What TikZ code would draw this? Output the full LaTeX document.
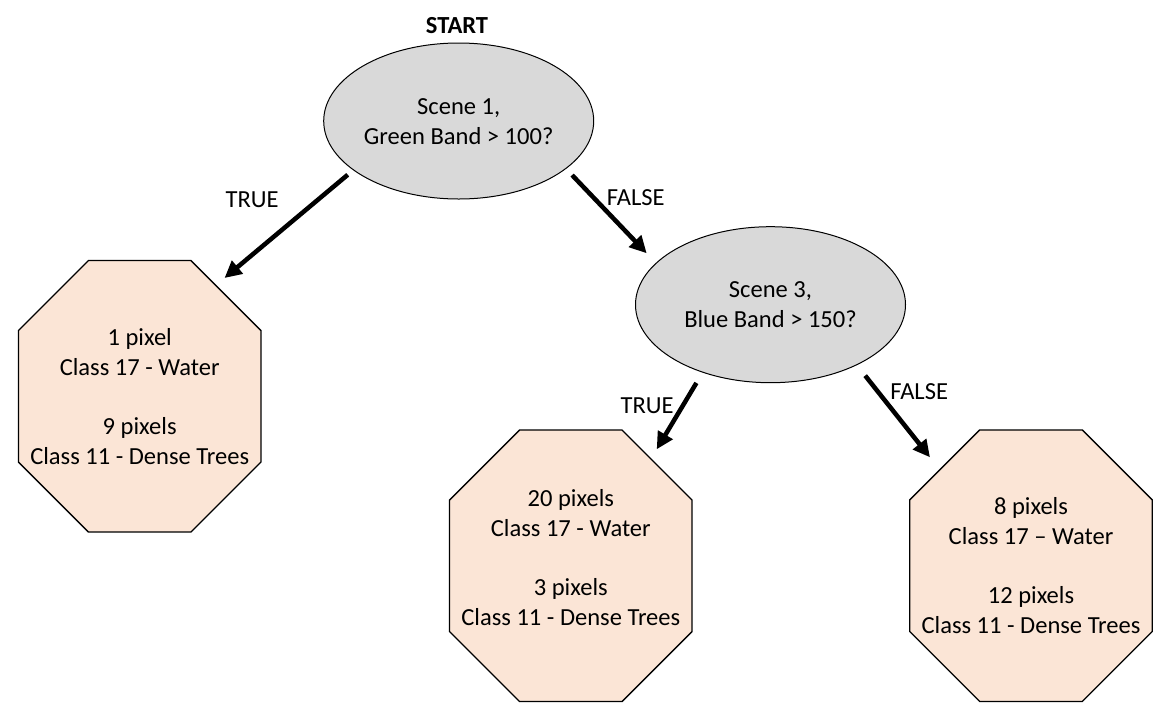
\documentclass[tikz,border=0pt]{standalone}
\usepackage{fontspec}
\setmainfont{Carlito}
\usetikzlibrary{shapes.geometric,arrows.meta,backgrounds}
\definecolor{sceneGray}{HTML}{D9D9D9}
\definecolor{leafPeach}{HTML}{FBE5D6}
\newcommand{\diagfont}{\fontsize{18.4pt}{22.3pt}\selectfont}
% text block, moved up or down without changing the node size
\newcommand{\lines}[2]{\raisebox{#1}[\height][\depth]{\begin{tabular}{@{}c@{}}#2\end{tabular}}}
% eight-sided outline round a leaf node
\newcommand{\octagon}[1]{%
  \filldraw[leafline] ([xshift=52.5pt]#1.north west) -- ([xshift=-52.5pt]#1.north east)
    -- ([yshift=-52.5pt]#1.north east) -- ([yshift=52.5pt]#1.south east)
    -- ([xshift=-52.5pt]#1.south east) -- ([xshift=52.5pt]#1.south west)
    -- ([yshift=52.5pt]#1.south west) -- ([yshift=-52.5pt]#1.north west) -- cycle;}
\tikzset{
  scene/.style={ellipse,draw,line width=0.75pt,fill=sceneGray,inner sep=0pt,
    minimum width=202.5pt,minimum height=117pt},
  leaf/.style={rectangle,inner sep=0pt,minimum width=181.5pt,minimum height=203.25pt},
  leafline/.style={draw=black,line width=1pt,fill=leafPeach},
  branch/.style={line width=3.4pt,-{Triangle[length=12.75pt,width=12.3pt]}}
}
\begin{document}
\begin{tikzpicture}[x=0.75pt,y=-0.75pt,font=\diagfont]
            \useasboundingbox (0,0) rectangle (1168,722);
            \node (start) at (457,25.8) {\textbf{START}};
            \node[scene] (s1) at (458.7,121) {\lines{-1.9pt}{Scene 1,\\ Green Band > 100?}};
            \node[scene] (s2) at (770.5,304.7) {\lines{-1.5pt}{Scene 3,\\ Blue Band > 150?}};
            \node[leaf] (w1) at (139.7,396.3) {\lines{-2pt}{1 pixel\\ Class 17 - Water\\ \\ 9 pixels\\ Class 11 - Dense Trees}};
            \node[leaf] (w2) at (570.8,565.8) {\lines{4.5pt}{20 pixels\\ Class 17 - Water\\ \\ 3 pixels\\ Class 11 - Dense Trees}};
            \node[leaf] (w3) at (1031,565.7) {\lines{-1.7pt}{8 pixels\\ Class 17 -- Water\\ \\ 12 pixels\\ Class 11 - Dense Trees}};
            \begin{scope}[on background layer]
              \octagon{w1} \octagon{w2} \octagon{w3}
            \end{scope}

            \node (t1) at (252.2,199.5) {TRUE};
            \node (f1) at (635.8,197.2) {FALSE};
            \node (t3) at (647.2,406.2) {TRUE};
            \node (f3) at (919.2,391.2) {FALSE};

            % arrow tips stop short of the boxes
            \coordinate (tipW1) at (224.5,278);
            \coordinate (tipS2) at (646.7,253.3);
            \coordinate (tipW2) at (656.7,449.3);
            \coordinate (tipW3) at (930,457.3);
            \draw[branch,shorten <=5.3pt] (s1.205) to (tipW1);
            \draw[branch,shorten <=6.5pt] (s1.336) to (tipS2);
            \draw[branch,shorten <=9pt] (s2.225) to (tipW2);
            \draw[branch,shorten <=10pt] (s2.325) to (tipW3);
        \end{tikzpicture}
\end{document}
